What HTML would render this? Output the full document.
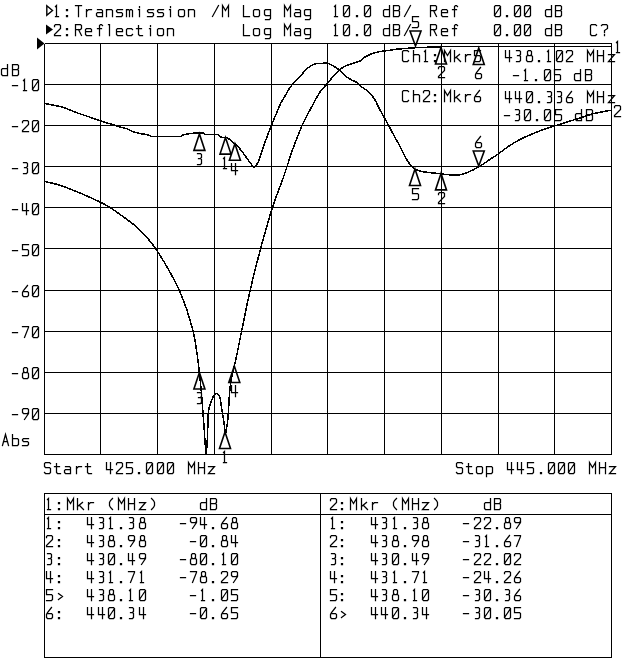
<!DOCTYPE html>
<html><head><meta charset="utf-8"><style>
html,body{margin:0;padding:0;background:#fff;}
svg{display:block;}
body{font-family:"Liberation Mono";}
.g{stroke:#000;stroke-width:1;shape-rendering:crispEdges;}
.b{fill:none;stroke:#000;stroke-width:1;shape-rendering:crispEdges;}
.t{fill:none;stroke:#000;stroke-width:1.25;stroke-linecap:square;stroke-linejoin:miter;}
.c{fill:none;stroke:#000;stroke-width:1.5;shape-rendering:crispEdges;}
.m{fill:none;stroke:#000;stroke-width:1.6;stroke-linejoin:miter;stroke-miterlimit:10;}
</style></head><body>
<svg width="640" height="659" viewBox="0 0 640 659">
<line x1="44.5" y1="43.5" x2="44.5" y2="454.5" class="g"/>
<line x1="100.5" y1="43.5" x2="100.5" y2="454.5" class="g"/>
<line x1="157.5" y1="43.5" x2="157.5" y2="454.5" class="g"/>
<line x1="214.5" y1="43.5" x2="214.5" y2="454.5" class="g"/>
<line x1="271.5" y1="43.5" x2="271.5" y2="454.5" class="g"/>
<line x1="327.5" y1="43.5" x2="327.5" y2="454.5" class="g"/>
<line x1="384.5" y1="43.5" x2="384.5" y2="454.5" class="g"/>
<line x1="441.5" y1="43.5" x2="441.5" y2="454.5" class="g"/>
<line x1="498.5" y1="43.5" x2="498.5" y2="454.5" class="g"/>
<line x1="554.5" y1="43.5" x2="554.5" y2="454.5" class="g"/>
<line x1="611.5" y1="43.5" x2="611.5" y2="454.5" class="g"/>
<line x1="44.5" y1="43.5" x2="611.5" y2="43.5" class="g"/>
<line x1="44.5" y1="84.5" x2="611.5" y2="84.5" class="g"/>
<line x1="44.5" y1="125.5" x2="611.5" y2="125.5" class="g"/>
<line x1="44.5" y1="166.5" x2="611.5" y2="166.5" class="g"/>
<line x1="44.5" y1="207.5" x2="611.5" y2="207.5" class="g"/>
<line x1="44.5" y1="248.5" x2="611.5" y2="248.5" class="g"/>
<line x1="44.5" y1="290.5" x2="611.5" y2="290.5" class="g"/>
<line x1="44.5" y1="331.5" x2="611.5" y2="331.5" class="g"/>
<line x1="44.5" y1="372.5" x2="611.5" y2="372.5" class="g"/>
<line x1="44.5" y1="413.5" x2="611.5" y2="413.5" class="g"/>
<line x1="44.5" y1="454.5" x2="611.5" y2="454.5" class="g"/>
<rect x="44.5" y="493.5" width="567" height="164" class="b"/>
<line x1="44.5" y1="514.5" x2="611.5" y2="514.5" class="g"/>
<line x1="320.5" y1="493.5" x2="320.5" y2="657.5" class="g"/>
<polygon points="46.8,5.8 52.5,10.5 46.8,15.2" fill="none" stroke="#000" stroke-width="1.4"/>
<polygon points="46,24.6 53,29.5 46,34.4" fill="#000"/>
<polygon points="37,37.5 44.5,43.5 37,49.5" fill="#000"/>
<path class="c" d="M44.50,181.50 C46.67,182.00 53.67,183.42 57.50,184.50 C61.33,185.58 63.75,186.58 67.50,188.00 C71.25,189.42 74.58,190.67 80.00,193.00 C85.42,195.33 95.00,199.58 100.00,202.00 C105.00,204.42 106.25,205.12 110.00,207.50 C113.75,209.88 117.92,212.83 122.50,216.25 C127.08,219.67 131.93,222.53 137.50,228.00 C143.07,233.47 148.93,238.68 155.90,249.10 C162.87,259.52 173.10,276.77 179.30,290.50 C185.50,304.23 189.75,317.83 193.10,331.50 C196.45,345.17 197.75,358.92 199.40,372.50 C201.05,386.08 201.92,399.33 203.00,413.00 C204.08,426.67 205.42,447.58 205.90,454.50 L206.30,454.50 C206.50,451.42 207.13,443.25 207.50,436.00 C207.87,428.75 207.83,416.83 208.50,411.00 C209.17,405.17 210.67,403.50 211.50,401.00 C212.33,398.50 212.75,397.22 213.50,396.00 C214.25,394.78 215.17,393.87 216.00,393.70 C216.83,393.53 217.83,394.28 218.50,395.00 C219.17,395.72 219.38,395.23 220.00,398.00 C220.62,400.77 221.60,407.93 222.20,411.60 C222.80,415.27 223.05,416.18 223.60,420.00 C224.15,423.82 225.18,432.08 225.50,434.50 C225.88,432.08 227.08,427.37 227.80,420.00 C228.52,412.63 229.10,397.77 229.80,390.30 C230.50,382.83 231.25,379.25 232.00,375.20 C232.75,371.15 233.53,369.20 234.30,366.00 C235.07,362.80 235.30,362.22 236.60,356.00 C237.90,349.78 239.92,339.32 242.10,328.70 C244.28,318.08 246.67,305.45 249.70,292.30 C252.73,279.15 256.50,263.97 260.30,249.80 C264.10,235.63 268.80,218.93 272.50,207.30 C276.20,195.67 280.08,186.80 282.50,180.00 C284.92,173.20 285.23,171.78 287.00,166.50 C288.77,161.22 290.57,155.18 293.10,148.30 C295.63,141.42 299.42,131.53 302.20,125.20 C304.98,118.87 306.83,115.82 309.80,110.30 C312.77,104.78 316.95,96.69 320.00,92.10 C323.05,87.51 325.81,85.50 328.10,82.75 C330.39,80.00 331.87,77.72 333.75,75.60 C335.63,73.47 337.52,71.56 339.40,70.00 C341.27,68.44 342.82,67.35 345.00,66.25 C347.18,65.15 350.00,64.28 352.50,63.40 C355.00,62.52 357.92,62.07 360.00,61.00 C362.08,59.93 362.92,58.25 365.00,57.00 C367.08,55.75 370.00,54.40 372.50,53.50 C375.00,52.60 378.08,52.02 380.00,51.60 C381.92,51.18 382.33,51.23 384.00,51.00 C385.67,50.77 388.00,50.50 390.00,50.20 C392.00,49.90 393.67,49.47 396.00,49.20 C398.33,48.93 401.00,48.83 404.00,48.60 C407.00,48.37 410.50,48.02 414.00,47.80 C417.50,47.58 420.67,47.43 425.00,47.30 C429.33,47.17 436.17,47.13 440.00,47.00 C443.83,46.87 419.50,46.58 448.00,46.50 C476.50,46.42 583.83,46.50 611.00,46.50"/>
<path class="c" d="M44.70,103.60 C45.73,103.78 47.78,104.05 50.90,104.70 C54.02,105.35 58.97,106.12 63.40,107.50 C67.83,108.88 73.58,111.57 77.50,113.00 C81.42,114.43 83.12,114.80 86.90,116.10 C90.68,117.40 96.30,119.50 100.20,120.80 C104.10,122.10 107.00,122.88 110.30,123.90 C113.60,124.92 117.13,126.05 120.00,126.90 C122.87,127.75 125.42,128.23 127.50,129.00 C129.58,129.77 130.42,130.75 132.50,131.50 C134.58,132.25 137.29,132.92 140.00,133.50 C142.71,134.08 146.98,134.53 148.75,135.00 C150.52,135.47 150.29,136.08 150.60,136.30 L181.25,136.30 C181.54,136.08 180.92,135.52 183.00,135.00 C185.08,134.48 190.33,133.50 193.75,133.20 C197.17,132.90 201.88,133.20 203.50,133.20 L204.40,134.40 L217.60,134.40 C218.07,134.80 219.33,136.25 220.40,136.80 C221.47,137.35 222.73,137.47 224.00,137.70 C225.27,137.93 226.42,137.27 228.00,138.20 C229.58,139.13 232.12,142.21 233.50,143.30 C234.88,144.39 234.73,143.18 236.30,144.75 C237.87,146.32 240.77,149.96 242.90,152.70 C245.03,155.44 247.25,158.70 249.10,161.20 C250.95,163.70 253.18,166.62 254.00,167.70 C254.70,166.75 256.73,165.23 258.20,162.00 C259.67,158.77 261.28,152.62 262.80,148.30 C264.32,143.98 265.83,139.95 267.30,136.10 C268.77,132.25 270.08,128.98 271.60,125.20 C273.12,121.42 274.83,117.13 276.40,113.40 C277.97,109.67 279.48,105.83 281.00,102.80 C282.52,99.77 284.00,97.73 285.50,95.20 C287.00,92.67 288.23,90.13 290.00,87.60 C291.77,85.07 294.43,81.83 296.10,80.00 C297.77,78.17 298.10,78.58 300.00,76.60 C301.90,74.62 305.00,70.20 307.50,68.10 C310.00,66.00 312.82,64.78 315.00,64.00 C317.18,63.22 318.42,63.50 320.60,63.40 C322.78,63.30 325.91,62.92 328.10,63.40 C330.29,63.88 331.87,65.15 333.75,66.25 C335.63,67.35 337.52,68.44 339.40,70.00 C341.27,71.56 343.13,74.03 345.00,75.60 C346.87,77.17 348.73,78.30 350.60,79.40 C352.48,80.50 354.37,80.93 356.25,82.20 C358.13,83.47 359.71,85.28 361.90,87.00 C364.09,88.72 367.22,90.33 369.40,92.50 C371.58,94.67 373.23,97.08 375.00,100.00 C376.77,102.92 378.33,106.88 380.00,110.00 C381.67,113.12 382.50,114.17 385.00,118.75 C387.50,123.33 392.50,132.92 395.00,137.50 C397.50,142.08 398.54,143.54 400.00,146.25 C401.46,148.96 402.35,151.09 403.75,153.75 C405.15,156.41 406.52,159.64 408.40,162.20 C410.27,164.76 412.65,167.53 415.00,169.10 C417.35,170.67 419.38,170.95 422.50,171.60 C425.62,172.25 430.62,172.63 433.75,173.00 C436.88,173.37 438.75,173.51 441.25,173.80 C443.75,174.09 445.62,174.59 448.75,174.75 C451.88,174.91 456.88,175.12 460.00,174.75 C463.12,174.38 464.38,173.81 467.50,172.50 C470.62,171.19 475.00,169.08 478.75,166.90 C482.50,164.72 486.71,161.59 490.00,159.40 C493.29,157.21 495.38,155.94 498.50,153.75 C501.62,151.56 505.17,148.62 508.75,146.25 C512.33,143.88 515.99,141.58 520.00,139.50 C524.01,137.42 528.84,135.43 532.80,133.75 C536.76,132.07 540.17,130.68 543.75,129.40 C547.33,128.12 550.66,127.27 554.30,126.10 C557.94,124.93 561.52,123.68 565.60,122.40 C569.68,121.12 574.37,119.78 578.75,118.40 C583.13,117.02 586.42,115.48 591.90,114.10 C597.38,112.72 608.32,110.77 611.60,110.10"/>
<polygon class="m" points="225,432 219.5,448.5 230.5,448.5"/>
<polygon class="m" points="441,47.5 435.5,64 446.5,64"/>
<polygon class="m" points="199.4,372.5 193.9,389 204.9,389"/>
<polygon class="m" points="234.3,366 228.8,382.5 239.8,382.5"/>
<polygon class="m" points="478.75,48 473.25,64.5 484.25,64.5"/>
<polygon class="m" points="225.5,137.6 220,154.1 231,154.1"/>
<polygon class="m" points="441,173.4 435.5,189.9 446.5,189.9"/>
<polygon class="m" points="199.4,133.9 193.9,150.4 204.9,150.4"/>
<polygon class="m" points="234.9,143.75 229.4,160.25 240.4,160.25"/>
<polygon class="m" points="415,169 409.5,185.5 420.5,185.5"/>
<polygon class="m" points="415.5,46 410,31 421,31"/>
<polygon class="m" points="478.75,166 473.25,151 484.25,151"/>
<path class="t" d="M 55.5,6.5 L 56.5,5.5 L 56.5,16.5 M 55.5,16.5 L 58.5,16.5 M 66.5,9.5 L 67.5,9.5 L 67.5,10.5 L 66.5,10.5 Z M 66.5,15.5 L 67.5,15.5 L 67.5,16.5 L 66.5,16.5 Z M 75.5,5.5 L 81.5,5.5 M 78.5,5.5 L 78.5,16.5 M 86.5,9.5 L 86.5,16.5 M 86.5,11.5 L 88.5,9.5 L 91.5,9.5 M 97.5,9.5 L 101.5,9.5 L 102.5,10.5 L 102.5,16.5 M 102.5,12.5 L 97.5,12.5 L 96.5,13.5 L 96.5,15.5 L 97.5,16.5 L 102.5,16.5 M 106.5,9.5 L 106.5,16.5 M 106.5,10.5 L 107.5,9.5 L 111.5,9.5 L 112.5,10.5 L 112.5,16.5 M 122.5,9.5 L 117.5,9.5 L 116.5,10.5 L 116.5,11.5 L 117.5,12.5 L 121.5,12.5 L 122.5,13.5 L 122.5,15.5 L 121.5,16.5 L 116.5,16.5 M 126.5,9.5 L 126.5,16.5 M 126.5,10.5 L 127.5,9.5 L 128.5,9.5 L 129.5,10.5 L 129.5,16.5 M 129.5,10.5 L 130.5,9.5 L 131.5,9.5 L 132.5,10.5 L 132.5,16.5 M 138.5,9.5 L 139.5,9.5 L 139.5,16.5 M 139.5,6.5 L 139.5,7.5 M 153.5,9.5 L 148.5,9.5 L 147.5,10.5 L 147.5,11.5 L 148.5,12.5 L 152.5,12.5 L 153.5,13.5 L 153.5,15.5 L 152.5,16.5 L 147.5,16.5 M 163.5,9.5 L 158.5,9.5 L 157.5,10.5 L 157.5,11.5 L 158.5,12.5 L 162.5,12.5 L 163.5,13.5 L 163.5,15.5 L 162.5,16.5 L 157.5,16.5 M 169.5,9.5 L 170.5,9.5 L 170.5,16.5 M 170.5,6.5 L 170.5,7.5 M 179.5,9.5 L 183.5,9.5 L 184.5,10.5 L 184.5,15.5 L 183.5,16.5 L 179.5,16.5 L 178.5,15.5 L 178.5,10.5 Z M 188.5,9.5 L 188.5,16.5 M 188.5,10.5 L 189.5,9.5 L 193.5,9.5 L 194.5,10.5 L 194.5,16.5 M 212.5,16.5 L 218.5,5.5 M 222.5,16.5 L 222.5,5.5 L 225.5,10.5 L 228.5,5.5 L 228.5,16.5 M 243.5,5.5 L 243.5,16.5 L 249.5,16.5 M 254.5,9.5 L 258.5,9.5 L 259.5,10.5 L 259.5,15.5 L 258.5,16.5 L 254.5,16.5 L 253.5,15.5 L 253.5,10.5 Z M 270.5,9.5 L 265.5,9.5 L 264.5,10.5 L 264.5,14.5 L 265.5,15.5 L 270.5,15.5 M 270.5,9.5 L 270.5,18.5 L 269.5,19.5 L 265.5,19.5 M 284.5,16.5 L 284.5,5.5 L 287.5,10.5 L 290.5,5.5 L 290.5,16.5 M 295.5,9.5 L 299.5,9.5 L 300.5,10.5 L 300.5,16.5 M 300.5,12.5 L 295.5,12.5 L 294.5,13.5 L 294.5,15.5 L 295.5,16.5 L 300.5,16.5 M 310.5,9.5 L 305.5,9.5 L 304.5,10.5 L 304.5,14.5 L 305.5,15.5 L 310.5,15.5 M 310.5,9.5 L 310.5,18.5 L 309.5,19.5 L 305.5,19.5 M 334.5,6.5 L 335.5,5.5 L 335.5,16.5 M 334.5,16.5 L 337.5,16.5 M 344.5,5.5 L 348.5,5.5 L 349.5,6.5 L 349.5,15.5 L 348.5,16.5 L 344.5,16.5 L 343.5,15.5 L 343.5,6.5 Z M 343.5,15.5 L 349.5,6.5 M 356.5,15.5 L 357.5,15.5 L 357.5,16.5 L 356.5,16.5 Z M 365.5,5.5 L 369.5,5.5 L 370.5,6.5 L 370.5,15.5 L 369.5,16.5 L 365.5,16.5 L 364.5,15.5 L 364.5,6.5 Z M 364.5,15.5 L 370.5,6.5 M 389.5,5.5 L 389.5,16.5 L 384.5,16.5 L 383.5,15.5 L 383.5,10.5 L 384.5,9.5 L 389.5,9.5 M 393.5,5.5 L 398.5,5.5 L 399.5,6.5 L 399.5,9.5 L 398.5,10.5 L 393.5,10.5 M 398.5,10.5 L 399.5,11.5 L 399.5,15.5 L 398.5,16.5 L 393.5,16.5 L 393.5,5.5 M 404.5,16.5 L 410.5,5.5 M 430.5,16.5 L 430.5,5.5 L 435.5,5.5 L 436.5,6.5 L 436.5,9.5 L 435.5,10.5 L 430.5,10.5 M 433.5,10.5 L 436.5,16.5 M 441.5,12.5 L 447.5,12.5 L 447.5,10.5 L 446.5,9.5 L 442.5,9.5 L 441.5,10.5 L 441.5,15.5 L 442.5,16.5 L 447.5,16.5 M 457.5,6.5 L 456.5,5.5 L 455.5,5.5 L 454.5,6.5 L 454.5,16.5 M 452.5,9.5 L 456.5,9.5 M 495.5,5.5 L 499.5,5.5 L 500.5,6.5 L 500.5,15.5 L 499.5,16.5 L 495.5,16.5 L 494.5,15.5 L 494.5,6.5 Z M 494.5,15.5 L 500.5,6.5 M 506.5,15.5 L 507.5,15.5 L 507.5,16.5 L 506.5,16.5 Z M 515.5,5.5 L 519.5,5.5 L 520.5,6.5 L 520.5,15.5 L 519.5,16.5 L 515.5,16.5 L 514.5,15.5 L 514.5,6.5 Z M 514.5,15.5 L 520.5,6.5 M 525.5,5.5 L 529.5,5.5 L 530.5,6.5 L 530.5,15.5 L 529.5,16.5 L 525.5,16.5 L 524.5,15.5 L 524.5,6.5 Z M 524.5,15.5 L 530.5,6.5 M 551.5,5.5 L 551.5,16.5 L 546.5,16.5 L 545.5,15.5 L 545.5,10.5 L 546.5,9.5 L 551.5,9.5 M 555.5,5.5 L 560.5,5.5 L 561.5,6.5 L 561.5,9.5 L 560.5,10.5 L 555.5,10.5 M 560.5,10.5 L 561.5,11.5 L 561.5,15.5 L 560.5,16.5 L 555.5,16.5 L 555.5,5.5 M 54.5,26.5 L 54.5,25.5 L 55.5,24.5 L 59.5,24.5 L 60.5,25.5 L 60.5,28.5 L 54.5,34.5 L 54.5,35.5 L 60.5,35.5 M 66.5,28.5 L 67.5,28.5 L 67.5,29.5 L 66.5,29.5 Z M 66.5,34.5 L 67.5,34.5 L 67.5,35.5 L 66.5,35.5 Z M 75.5,35.5 L 75.5,24.5 L 80.5,24.5 L 81.5,25.5 L 81.5,28.5 L 80.5,29.5 L 75.5,29.5 M 78.5,29.5 L 81.5,35.5 M 85.5,31.5 L 91.5,31.5 L 91.5,29.5 L 90.5,28.5 L 86.5,28.5 L 85.5,29.5 L 85.5,34.5 L 86.5,35.5 L 91.5,35.5 M 102.5,25.5 L 101.5,24.5 L 100.5,24.5 L 99.5,25.5 L 99.5,35.5 M 97.5,28.5 L 101.5,28.5 M 108.5,24.5 L 109.5,24.5 L 109.5,35.5 M 116.5,31.5 L 122.5,31.5 L 122.5,29.5 L 121.5,28.5 L 117.5,28.5 L 116.5,29.5 L 116.5,34.5 L 117.5,35.5 L 122.5,35.5 M 132.5,29.5 L 131.5,28.5 L 127.5,28.5 L 126.5,29.5 L 126.5,34.5 L 127.5,35.5 L 131.5,35.5 L 132.5,34.5 M 138.5,25.5 L 138.5,34.5 L 139.5,35.5 L 142.5,35.5 M 136.5,28.5 L 141.5,28.5 M 149.5,28.5 L 150.5,28.5 L 150.5,35.5 M 150.5,25.5 L 150.5,26.5 M 158.5,28.5 L 162.5,28.5 L 163.5,29.5 L 163.5,34.5 L 162.5,35.5 L 158.5,35.5 L 157.5,34.5 L 157.5,29.5 Z M 167.5,28.5 L 167.5,35.5 M 167.5,29.5 L 168.5,28.5 L 172.5,28.5 L 173.5,29.5 L 173.5,35.5 M 243.5,24.5 L 243.5,35.5 L 249.5,35.5 M 254.5,28.5 L 258.5,28.5 L 259.5,29.5 L 259.5,34.5 L 258.5,35.5 L 254.5,35.5 L 253.5,34.5 L 253.5,29.5 Z M 270.5,28.5 L 265.5,28.5 L 264.5,29.5 L 264.5,33.5 L 265.5,34.5 L 270.5,34.5 M 270.5,28.5 L 270.5,37.5 L 269.5,38.5 L 265.5,38.5 M 284.5,35.5 L 284.5,24.5 L 287.5,29.5 L 290.5,24.5 L 290.5,35.5 M 295.5,28.5 L 299.5,28.5 L 300.5,29.5 L 300.5,35.5 M 300.5,31.5 L 295.5,31.5 L 294.5,32.5 L 294.5,34.5 L 295.5,35.5 L 300.5,35.5 M 310.5,28.5 L 305.5,28.5 L 304.5,29.5 L 304.5,33.5 L 305.5,34.5 L 310.5,34.5 M 310.5,28.5 L 310.5,37.5 L 309.5,38.5 L 305.5,38.5 M 334.5,25.5 L 335.5,24.5 L 335.5,35.5 M 334.5,35.5 L 337.5,35.5 M 344.5,24.5 L 348.5,24.5 L 349.5,25.5 L 349.5,34.5 L 348.5,35.5 L 344.5,35.5 L 343.5,34.5 L 343.5,25.5 Z M 343.5,34.5 L 349.5,25.5 M 356.5,34.5 L 357.5,34.5 L 357.5,35.5 L 356.5,35.5 Z M 365.5,24.5 L 369.5,24.5 L 370.5,25.5 L 370.5,34.5 L 369.5,35.5 L 365.5,35.5 L 364.5,34.5 L 364.5,25.5 Z M 364.5,34.5 L 370.5,25.5 M 389.5,24.5 L 389.5,35.5 L 384.5,35.5 L 383.5,34.5 L 383.5,29.5 L 384.5,28.5 L 389.5,28.5 M 393.5,24.5 L 398.5,24.5 L 399.5,25.5 L 399.5,28.5 L 398.5,29.5 L 393.5,29.5 M 398.5,29.5 L 399.5,30.5 L 399.5,34.5 L 398.5,35.5 L 393.5,35.5 L 393.5,24.5 M 404.5,35.5 L 410.5,24.5 M 430.5,35.5 L 430.5,24.5 L 435.5,24.5 L 436.5,25.5 L 436.5,28.5 L 435.5,29.5 L 430.5,29.5 M 433.5,29.5 L 436.5,35.5 M 441.5,31.5 L 447.5,31.5 L 447.5,29.5 L 446.5,28.5 L 442.5,28.5 L 441.5,29.5 L 441.5,34.5 L 442.5,35.5 L 447.5,35.5 M 457.5,25.5 L 456.5,24.5 L 455.5,24.5 L 454.5,25.5 L 454.5,35.5 M 452.5,28.5 L 456.5,28.5 M 495.5,24.5 L 499.5,24.5 L 500.5,25.5 L 500.5,34.5 L 499.5,35.5 L 495.5,35.5 L 494.5,34.5 L 494.5,25.5 Z M 494.5,34.5 L 500.5,25.5 M 506.5,34.5 L 507.5,34.5 L 507.5,35.5 L 506.5,35.5 Z M 515.5,24.5 L 519.5,24.5 L 520.5,25.5 L 520.5,34.5 L 519.5,35.5 L 515.5,35.5 L 514.5,34.5 L 514.5,25.5 Z M 514.5,34.5 L 520.5,25.5 M 525.5,24.5 L 529.5,24.5 L 530.5,25.5 L 530.5,34.5 L 529.5,35.5 L 525.5,35.5 L 524.5,34.5 L 524.5,25.5 Z M 524.5,34.5 L 530.5,25.5 M 551.5,24.5 L 551.5,35.5 L 546.5,35.5 L 545.5,34.5 L 545.5,29.5 L 546.5,28.5 L 551.5,28.5 M 555.5,24.5 L 560.5,24.5 L 561.5,25.5 L 561.5,28.5 L 560.5,29.5 L 555.5,29.5 M 560.5,29.5 L 561.5,30.5 L 561.5,34.5 L 560.5,35.5 L 555.5,35.5 L 555.5,24.5 M 596.5,25.5 L 595.5,24.5 L 591.5,24.5 L 590.5,25.5 L 590.5,34.5 L 591.5,35.5 L 595.5,35.5 L 596.5,34.5 M 601.5,25.5 L 602.5,24.5 L 606.5,24.5 L 607.5,25.5 L 607.5,28.5 L 604.5,30.5 L 604.5,32.5 M 604.5,34.5 L 604.5,35.5 M 408.5,51.5 L 407.5,50.5 L 403.5,50.5 L 402.5,51.5 L 402.5,60.5 L 403.5,61.5 L 407.5,61.5 L 408.5,60.5 M 413.5,50.5 L 413.5,61.5 M 413.5,55.5 L 414.5,54.5 L 418.5,54.5 L 419.5,55.5 L 419.5,61.5 M 424.5,51.5 L 425.5,50.5 L 425.5,61.5 M 424.5,61.5 L 427.5,61.5 M 434.5,54.5 L 435.5,54.5 L 435.5,55.5 L 434.5,55.5 Z M 434.5,60.5 L 435.5,60.5 L 435.5,61.5 L 434.5,61.5 Z M 444.5,61.5 L 444.5,50.5 L 447.5,55.5 L 450.5,50.5 L 450.5,61.5 M 454.5,50.5 L 454.5,61.5 M 459.5,54.5 L 454.5,58.5 M 456.5,57.5 L 460.5,61.5 M 465.5,54.5 L 465.5,61.5 M 465.5,56.5 L 467.5,54.5 L 470.5,54.5 M 480.5,50.5 L 474.5,50.5 L 474.5,55.5 L 479.5,55.5 L 480.5,56.5 L 480.5,60.5 L 479.5,61.5 L 474.5,61.5 M 505.5,50.5 L 505.5,57.5 L 511.5,57.5 M 509.5,50.5 L 509.5,61.5 M 516.5,50.5 L 519.5,50.5 L 520.5,51.5 L 520.5,54.5 L 519.5,55.5 L 517.5,55.5 M 519.5,55.5 L 520.5,56.5 L 520.5,60.5 L 519.5,61.5 L 516.5,61.5 M 528.5,50.5 L 530.5,50.5 L 531.5,51.5 L 531.5,54.5 L 530.5,55.5 L 528.5,55.5 L 527.5,54.5 L 527.5,51.5 Z M 527.5,55.5 L 526.5,56.5 L 526.5,60.5 L 527.5,61.5 L 531.5,61.5 L 532.5,60.5 L 532.5,56.5 L 531.5,55.5 M 538.5,60.5 L 539.5,60.5 L 539.5,61.5 L 538.5,61.5 Z M 547.5,51.5 L 548.5,50.5 L 548.5,61.5 M 547.5,61.5 L 550.5,61.5 M 557.5,50.5 L 561.5,50.5 L 562.5,51.5 L 562.5,60.5 L 561.5,61.5 L 557.5,61.5 L 556.5,60.5 L 556.5,51.5 Z M 556.5,60.5 L 562.5,51.5 M 566.5,52.5 L 566.5,51.5 L 567.5,50.5 L 571.5,50.5 L 572.5,51.5 L 572.5,54.5 L 566.5,60.5 L 566.5,61.5 L 572.5,61.5 M 587.5,61.5 L 587.5,50.5 L 590.5,55.5 L 593.5,50.5 L 593.5,61.5 M 597.5,50.5 L 597.5,61.5 M 603.5,50.5 L 603.5,61.5 M 597.5,55.5 L 603.5,55.5 M 608.5,54.5 L 614.5,54.5 L 608.5,61.5 L 614.5,61.5 M 513.5,75.5 L 518.5,75.5 M 524.5,70.5 L 525.5,69.5 L 525.5,80.5 M 524.5,80.5 L 527.5,80.5 M 535.5,79.5 L 536.5,79.5 L 536.5,80.5 L 535.5,80.5 Z M 545.5,69.5 L 549.5,69.5 L 550.5,70.5 L 550.5,79.5 L 549.5,80.5 L 545.5,80.5 L 544.5,79.5 L 544.5,70.5 Z M 544.5,79.5 L 550.5,70.5 M 560.5,69.5 L 554.5,69.5 L 554.5,74.5 L 559.5,74.5 L 560.5,75.5 L 560.5,79.5 L 559.5,80.5 L 554.5,80.5 M 580.5,69.5 L 580.5,80.5 L 575.5,80.5 L 574.5,79.5 L 574.5,74.5 L 575.5,73.5 L 580.5,73.5 M 585.5,69.5 L 590.5,69.5 L 591.5,70.5 L 591.5,73.5 L 590.5,74.5 L 585.5,74.5 M 590.5,74.5 L 591.5,75.5 L 591.5,79.5 L 590.5,80.5 L 585.5,80.5 L 585.5,69.5 M 408.5,91.5 L 407.5,90.5 L 403.5,90.5 L 402.5,91.5 L 402.5,100.5 L 403.5,101.5 L 407.5,101.5 L 408.5,100.5 M 413.5,90.5 L 413.5,101.5 M 413.5,95.5 L 414.5,94.5 L 418.5,94.5 L 419.5,95.5 L 419.5,101.5 M 423.5,92.5 L 423.5,91.5 L 424.5,90.5 L 428.5,90.5 L 429.5,91.5 L 429.5,94.5 L 423.5,100.5 L 423.5,101.5 L 429.5,101.5 M 434.5,94.5 L 435.5,94.5 L 435.5,95.5 L 434.5,95.5 Z M 434.5,100.5 L 435.5,100.5 L 435.5,101.5 L 434.5,101.5 Z M 444.5,101.5 L 444.5,90.5 L 447.5,95.5 L 450.5,90.5 L 450.5,101.5 M 454.5,90.5 L 454.5,101.5 M 459.5,94.5 L 454.5,98.5 M 456.5,97.5 L 460.5,101.5 M 465.5,94.5 L 465.5,101.5 M 465.5,96.5 L 467.5,94.5 L 470.5,94.5 M 479.5,90.5 L 475.5,95.5 L 474.5,97.5 L 474.5,100.5 L 475.5,101.5 L 479.5,101.5 L 480.5,100.5 L 480.5,97.5 L 479.5,96.5 L 475.5,96.5 M 505.5,91.5 L 505.5,98.5 L 511.5,98.5 M 509.5,91.5 L 509.5,102.5 M 515.5,91.5 L 515.5,98.5 L 521.5,98.5 M 519.5,91.5 L 519.5,102.5 M 527.5,91.5 L 531.5,91.5 L 532.5,92.5 L 532.5,101.5 L 531.5,102.5 L 527.5,102.5 L 526.5,101.5 L 526.5,92.5 Z M 526.5,101.5 L 532.5,92.5 M 538.5,101.5 L 539.5,101.5 L 539.5,102.5 L 538.5,102.5 Z M 547.5,91.5 L 550.5,91.5 L 551.5,92.5 L 551.5,95.5 L 550.5,96.5 L 548.5,96.5 M 550.5,96.5 L 551.5,97.5 L 551.5,101.5 L 550.5,102.5 L 547.5,102.5 M 557.5,91.5 L 560.5,91.5 L 561.5,92.5 L 561.5,95.5 L 560.5,96.5 L 558.5,96.5 M 560.5,96.5 L 561.5,97.5 L 561.5,101.5 L 560.5,102.5 L 557.5,102.5 M 571.5,91.5 L 567.5,96.5 L 566.5,98.5 L 566.5,101.5 L 567.5,102.5 L 571.5,102.5 L 572.5,101.5 L 572.5,98.5 L 571.5,97.5 L 567.5,97.5 M 587.5,102.5 L 587.5,91.5 L 590.5,96.5 L 593.5,91.5 L 593.5,102.5 M 597.5,91.5 L 597.5,102.5 M 603.5,91.5 L 603.5,102.5 M 597.5,96.5 L 603.5,96.5 M 608.5,95.5 L 614.5,95.5 L 608.5,102.5 L 614.5,102.5 M 504.5,115.5 L 509.5,115.5 M 515.5,109.5 L 518.5,109.5 L 519.5,110.5 L 519.5,113.5 L 518.5,114.5 L 516.5,114.5 M 518.5,114.5 L 519.5,115.5 L 519.5,119.5 L 518.5,120.5 L 515.5,120.5 M 525.5,109.5 L 529.5,109.5 L 530.5,110.5 L 530.5,119.5 L 529.5,120.5 L 525.5,120.5 L 524.5,119.5 L 524.5,110.5 Z M 524.5,119.5 L 530.5,110.5 M 536.5,119.5 L 537.5,119.5 L 537.5,120.5 L 536.5,120.5 Z M 545.5,109.5 L 549.5,109.5 L 550.5,110.5 L 550.5,119.5 L 549.5,120.5 L 545.5,120.5 L 544.5,119.5 L 544.5,110.5 Z M 544.5,119.5 L 550.5,110.5 M 561.5,109.5 L 555.5,109.5 L 555.5,114.5 L 560.5,114.5 L 561.5,115.5 L 561.5,119.5 L 560.5,120.5 L 555.5,120.5 M 581.5,109.5 L 581.5,120.5 L 576.5,120.5 L 575.5,119.5 L 575.5,114.5 L 576.5,113.5 L 581.5,113.5 M 586.5,109.5 L 591.5,109.5 L 592.5,110.5 L 592.5,113.5 L 591.5,114.5 L 586.5,114.5 M 591.5,114.5 L 592.5,115.5 L 592.5,119.5 L 591.5,120.5 L 586.5,120.5 L 586.5,109.5 M 7.5,64.5 L 7.5,75.5 L 2.5,75.5 L 1.5,74.5 L 1.5,69.5 L 2.5,68.5 L 7.5,68.5 M 12.5,64.5 L 17.5,64.5 L 18.5,65.5 L 18.5,68.5 L 17.5,69.5 L 12.5,69.5 M 17.5,69.5 L 18.5,70.5 L 18.5,74.5 L 17.5,75.5 L 12.5,75.5 L 12.5,64.5 M 12.5,85.5 L 17.5,85.5 M 23.5,80.5 L 24.5,79.5 L 24.5,90.5 M 23.5,90.5 L 26.5,90.5 M 33.5,79.5 L 37.5,79.5 L 38.5,80.5 L 38.5,89.5 L 37.5,90.5 L 33.5,90.5 L 32.5,89.5 L 32.5,80.5 Z M 32.5,89.5 L 38.5,80.5 M 12.5,126.5 L 17.5,126.5 M 22.5,122.5 L 22.5,121.5 L 23.5,120.5 L 27.5,120.5 L 28.5,121.5 L 28.5,124.5 L 22.5,130.5 L 22.5,131.5 L 28.5,131.5 M 33.5,120.5 L 37.5,120.5 L 38.5,121.5 L 38.5,130.5 L 37.5,131.5 L 33.5,131.5 L 32.5,130.5 L 32.5,121.5 Z M 32.5,130.5 L 38.5,121.5 M 12.5,168.5 L 17.5,168.5 M 23.5,162.5 L 26.5,162.5 L 27.5,163.5 L 27.5,166.5 L 26.5,167.5 L 24.5,167.5 M 26.5,167.5 L 27.5,168.5 L 27.5,172.5 L 26.5,173.5 L 23.5,173.5 M 33.5,162.5 L 37.5,162.5 L 38.5,163.5 L 38.5,172.5 L 37.5,173.5 L 33.5,173.5 L 32.5,172.5 L 32.5,163.5 Z M 32.5,172.5 L 38.5,163.5 M 12.5,209.5 L 17.5,209.5 M 22.5,203.5 L 22.5,210.5 L 28.5,210.5 M 26.5,203.5 L 26.5,214.5 M 33.5,203.5 L 37.5,203.5 L 38.5,204.5 L 38.5,213.5 L 37.5,214.5 L 33.5,214.5 L 32.5,213.5 L 32.5,204.5 Z M 32.5,213.5 L 38.5,204.5 M 12.5,250.5 L 17.5,250.5 M 28.5,244.5 L 22.5,244.5 L 22.5,249.5 L 27.5,249.5 L 28.5,250.5 L 28.5,254.5 L 27.5,255.5 L 22.5,255.5 M 33.5,244.5 L 37.5,244.5 L 38.5,245.5 L 38.5,254.5 L 37.5,255.5 L 33.5,255.5 L 32.5,254.5 L 32.5,245.5 Z M 32.5,254.5 L 38.5,245.5 M 12.5,291.5 L 17.5,291.5 M 27.5,285.5 L 23.5,290.5 L 22.5,292.5 L 22.5,295.5 L 23.5,296.5 L 27.5,296.5 L 28.5,295.5 L 28.5,292.5 L 27.5,291.5 L 23.5,291.5 M 33.5,285.5 L 37.5,285.5 L 38.5,286.5 L 38.5,295.5 L 37.5,296.5 L 33.5,296.5 L 32.5,295.5 L 32.5,286.5 Z M 32.5,295.5 L 38.5,286.5 M 12.5,332.5 L 17.5,332.5 M 22.5,326.5 L 28.5,326.5 L 28.5,327.5 L 24.5,337.5 M 33.5,326.5 L 37.5,326.5 L 38.5,327.5 L 38.5,336.5 L 37.5,337.5 L 33.5,337.5 L 32.5,336.5 L 32.5,327.5 Z M 32.5,336.5 L 38.5,327.5 M 12.5,373.5 L 17.5,373.5 M 24.5,367.5 L 26.5,367.5 L 27.5,368.5 L 27.5,371.5 L 26.5,372.5 L 24.5,372.5 L 23.5,371.5 L 23.5,368.5 Z M 23.5,372.5 L 22.5,373.5 L 22.5,377.5 L 23.5,378.5 L 27.5,378.5 L 28.5,377.5 L 28.5,373.5 L 27.5,372.5 M 33.5,367.5 L 37.5,367.5 L 38.5,368.5 L 38.5,377.5 L 37.5,378.5 L 33.5,378.5 L 32.5,377.5 L 32.5,368.5 Z M 32.5,377.5 L 38.5,368.5 M 12.5,414.5 L 17.5,414.5 M 28.5,412.5 L 27.5,413.5 L 23.5,413.5 L 22.5,412.5 L 22.5,409.5 L 23.5,408.5 L 27.5,408.5 L 28.5,409.5 L 28.5,413.5 L 24.5,419.5 M 33.5,408.5 L 37.5,408.5 L 38.5,409.5 L 38.5,418.5 L 37.5,419.5 L 33.5,419.5 L 32.5,418.5 L 32.5,409.5 Z M 32.5,418.5 L 38.5,409.5 M 2.5,445.5 L 5.5,434.5 L 8.5,445.5 M 3.5,441.5 L 7.5,441.5 M 12.5,434.5 L 12.5,445.5 L 17.5,445.5 L 18.5,444.5 L 18.5,439.5 L 17.5,438.5 L 12.5,438.5 M 28.5,438.5 L 23.5,438.5 L 22.5,439.5 L 22.5,440.5 L 23.5,441.5 L 27.5,441.5 L 28.5,442.5 L 28.5,444.5 L 27.5,445.5 L 22.5,445.5 M 50.5,463.5 L 49.5,462.5 L 45.5,462.5 L 44.5,463.5 L 44.5,466.5 L 45.5,467.5 L 49.5,467.5 L 50.5,468.5 L 50.5,472.5 L 49.5,473.5 L 45.5,473.5 L 44.5,472.5 M 56.5,463.5 L 56.5,472.5 L 57.5,473.5 L 60.5,473.5 M 54.5,466.5 L 59.5,466.5 M 65.5,466.5 L 69.5,466.5 L 70.5,467.5 L 70.5,473.5 M 70.5,469.5 L 65.5,469.5 L 64.5,470.5 L 64.5,472.5 L 65.5,473.5 L 70.5,473.5 M 76.5,466.5 L 76.5,473.5 M 76.5,468.5 L 78.5,466.5 L 81.5,466.5 M 87.5,463.5 L 87.5,472.5 L 88.5,473.5 L 91.5,473.5 M 85.5,466.5 L 90.5,466.5 M 106.5,462.5 L 106.5,469.5 L 112.5,469.5 M 110.5,462.5 L 110.5,473.5 M 116.5,464.5 L 116.5,463.5 L 117.5,462.5 L 121.5,462.5 L 122.5,463.5 L 122.5,466.5 L 116.5,472.5 L 116.5,473.5 L 122.5,473.5 M 132.5,462.5 L 126.5,462.5 L 126.5,467.5 L 131.5,467.5 L 132.5,468.5 L 132.5,472.5 L 131.5,473.5 L 126.5,473.5 M 138.5,472.5 L 139.5,472.5 L 139.5,473.5 L 138.5,473.5 Z M 147.5,462.5 L 151.5,462.5 L 152.5,463.5 L 152.5,472.5 L 151.5,473.5 L 147.5,473.5 L 146.5,472.5 L 146.5,463.5 Z M 146.5,472.5 L 152.5,463.5 M 158.5,462.5 L 162.5,462.5 L 163.5,463.5 L 163.5,472.5 L 162.5,473.5 L 158.5,473.5 L 157.5,472.5 L 157.5,463.5 Z M 157.5,472.5 L 163.5,463.5 M 168.5,462.5 L 172.5,462.5 L 173.5,463.5 L 173.5,472.5 L 172.5,473.5 L 168.5,473.5 L 167.5,472.5 L 167.5,463.5 Z M 167.5,472.5 L 173.5,463.5 M 188.5,473.5 L 188.5,462.5 L 191.5,467.5 L 194.5,462.5 L 194.5,473.5 M 198.5,462.5 L 198.5,473.5 M 204.5,462.5 L 204.5,473.5 M 198.5,467.5 L 204.5,467.5 M 208.5,466.5 L 214.5,466.5 L 208.5,473.5 L 214.5,473.5 M 462.5,463.5 L 461.5,462.5 L 457.5,462.5 L 456.5,463.5 L 456.5,466.5 L 457.5,467.5 L 461.5,467.5 L 462.5,468.5 L 462.5,472.5 L 461.5,473.5 L 457.5,473.5 L 456.5,472.5 M 468.5,463.5 L 468.5,472.5 L 469.5,473.5 L 472.5,473.5 M 466.5,466.5 L 471.5,466.5 M 477.5,466.5 L 481.5,466.5 L 482.5,467.5 L 482.5,472.5 L 481.5,473.5 L 477.5,473.5 L 476.5,472.5 L 476.5,467.5 Z M 486.5,466.5 L 486.5,476.5 M 486.5,466.5 L 491.5,466.5 L 492.5,467.5 L 492.5,472.5 L 491.5,473.5 L 486.5,473.5 M 507.5,462.5 L 507.5,469.5 L 513.5,469.5 M 511.5,462.5 L 511.5,473.5 M 517.5,462.5 L 517.5,469.5 L 523.5,469.5 M 521.5,462.5 L 521.5,473.5 M 533.5,462.5 L 527.5,462.5 L 527.5,467.5 L 532.5,467.5 L 533.5,468.5 L 533.5,472.5 L 532.5,473.5 L 527.5,473.5 M 540.5,472.5 L 541.5,472.5 L 541.5,473.5 L 540.5,473.5 Z M 549.5,462.5 L 553.5,462.5 L 554.5,463.5 L 554.5,472.5 L 553.5,473.5 L 549.5,473.5 L 548.5,472.5 L 548.5,463.5 Z M 548.5,472.5 L 554.5,463.5 M 559.5,462.5 L 563.5,462.5 L 564.5,463.5 L 564.5,472.5 L 563.5,473.5 L 559.5,473.5 L 558.5,472.5 L 558.5,463.5 Z M 558.5,472.5 L 564.5,463.5 M 569.5,462.5 L 573.5,462.5 L 574.5,463.5 L 574.5,472.5 L 573.5,473.5 L 569.5,473.5 L 568.5,472.5 L 568.5,463.5 Z M 568.5,472.5 L 574.5,463.5 M 589.5,473.5 L 589.5,462.5 L 592.5,467.5 L 595.5,462.5 L 595.5,473.5 M 599.5,462.5 L 599.5,473.5 M 605.5,462.5 L 605.5,473.5 M 599.5,467.5 L 605.5,467.5 M 609.5,466.5 L 615.5,466.5 L 609.5,473.5 L 615.5,473.5 M 616.5,42.5 L 617.5,41.5 L 617.5,52.5 M 616.5,52.5 L 619.5,52.5 M 614.5,107.5 L 614.5,106.5 L 615.5,105.5 L 619.5,105.5 L 620.5,106.5 L 620.5,109.5 L 614.5,115.5 L 614.5,116.5 L 620.5,116.5 M 47.5,499.5 L 48.5,498.5 L 48.5,509.5 M 47.5,509.5 L 50.5,509.5 M 58.5,502.5 L 59.5,502.5 L 59.5,503.5 L 58.5,503.5 Z M 58.5,508.5 L 59.5,508.5 L 59.5,509.5 L 58.5,509.5 Z M 67.5,509.5 L 67.5,498.5 L 70.5,503.5 L 73.5,498.5 L 73.5,509.5 M 77.5,498.5 L 77.5,509.5 M 82.5,502.5 L 77.5,506.5 M 79.5,505.5 L 83.5,509.5 M 88.5,502.5 L 88.5,509.5 M 88.5,504.5 L 90.5,502.5 L 93.5,502.5 M 112.5,498.5 L 110.5,500.5 L 109.5,502.5 L 109.5,505.5 L 110.5,507.5 L 112.5,509.5 M 118.5,509.5 L 118.5,498.5 L 121.5,503.5 L 124.5,498.5 L 124.5,509.5 M 128.5,498.5 L 128.5,509.5 M 134.5,498.5 L 134.5,509.5 M 128.5,503.5 L 134.5,503.5 M 139.5,502.5 L 145.5,502.5 L 139.5,509.5 L 145.5,509.5 M 151.5,498.5 L 153.5,500.5 L 154.5,502.5 L 154.5,505.5 L 153.5,507.5 L 151.5,509.5 M 206.5,498.5 L 206.5,509.5 L 201.5,509.5 L 200.5,508.5 L 200.5,503.5 L 201.5,502.5 L 206.5,502.5 M 210.5,498.5 L 215.5,498.5 L 216.5,499.5 L 216.5,502.5 L 215.5,503.5 L 210.5,503.5 M 215.5,503.5 L 216.5,504.5 L 216.5,508.5 L 215.5,509.5 L 210.5,509.5 L 210.5,498.5 M 330.5,500.5 L 330.5,499.5 L 331.5,498.5 L 335.5,498.5 L 336.5,499.5 L 336.5,502.5 L 330.5,508.5 L 330.5,509.5 L 336.5,509.5 M 341.5,502.5 L 342.5,502.5 L 342.5,503.5 L 341.5,503.5 Z M 341.5,508.5 L 342.5,508.5 L 342.5,509.5 L 341.5,509.5 Z M 350.5,509.5 L 350.5,498.5 L 353.5,503.5 L 356.5,498.5 L 356.5,509.5 M 361.5,498.5 L 361.5,509.5 M 366.5,502.5 L 361.5,506.5 M 363.5,505.5 L 367.5,509.5 M 372.5,502.5 L 372.5,509.5 M 372.5,504.5 L 374.5,502.5 L 377.5,502.5 M 396.5,498.5 L 394.5,500.5 L 393.5,502.5 L 393.5,505.5 L 394.5,507.5 L 396.5,509.5 M 402.5,509.5 L 402.5,498.5 L 405.5,503.5 L 408.5,498.5 L 408.5,509.5 M 412.5,498.5 L 412.5,509.5 M 418.5,498.5 L 418.5,509.5 M 412.5,503.5 L 418.5,503.5 M 422.5,502.5 L 428.5,502.5 L 422.5,509.5 L 428.5,509.5 M 434.5,498.5 L 436.5,500.5 L 437.5,502.5 L 437.5,505.5 L 436.5,507.5 L 434.5,509.5 M 490.5,498.5 L 490.5,509.5 L 485.5,509.5 L 484.5,508.5 L 484.5,503.5 L 485.5,502.5 L 490.5,502.5 M 494.5,498.5 L 499.5,498.5 L 500.5,499.5 L 500.5,502.5 L 499.5,503.5 L 494.5,503.5 M 499.5,503.5 L 500.5,504.5 L 500.5,508.5 L 499.5,509.5 L 494.5,509.5 L 494.5,498.5 M 47.5,518.5 L 48.5,517.5 L 48.5,528.5 M 47.5,528.5 L 50.5,528.5 M 58.5,521.5 L 59.5,521.5 L 59.5,522.5 L 58.5,522.5 Z M 58.5,527.5 L 59.5,527.5 L 59.5,528.5 L 58.5,528.5 Z M 87.5,517.5 L 87.5,524.5 L 93.5,524.5 M 91.5,517.5 L 91.5,528.5 M 99.5,517.5 L 102.5,517.5 L 103.5,518.5 L 103.5,521.5 L 102.5,522.5 L 100.5,522.5 M 102.5,522.5 L 103.5,523.5 L 103.5,527.5 L 102.5,528.5 L 99.5,528.5 M 109.5,518.5 L 110.5,517.5 L 110.5,528.5 M 109.5,528.5 L 112.5,528.5 M 120.5,527.5 L 121.5,527.5 L 121.5,528.5 L 120.5,528.5 Z M 129.5,517.5 L 132.5,517.5 L 133.5,518.5 L 133.5,521.5 L 132.5,522.5 L 130.5,522.5 M 132.5,522.5 L 133.5,523.5 L 133.5,527.5 L 132.5,528.5 L 129.5,528.5 M 141.5,517.5 L 143.5,517.5 L 144.5,518.5 L 144.5,521.5 L 143.5,522.5 L 141.5,522.5 L 140.5,521.5 L 140.5,518.5 Z M 140.5,522.5 L 139.5,523.5 L 139.5,527.5 L 140.5,528.5 L 144.5,528.5 L 145.5,527.5 L 145.5,523.5 L 144.5,522.5 M 180.5,523.5 L 185.5,523.5 M 196.5,521.5 L 195.5,522.5 L 191.5,522.5 L 190.5,521.5 L 190.5,518.5 L 191.5,517.5 L 195.5,517.5 L 196.5,518.5 L 196.5,522.5 L 192.5,528.5 M 200.5,517.5 L 200.5,524.5 L 206.5,524.5 M 204.5,517.5 L 204.5,528.5 M 212.5,527.5 L 213.5,527.5 L 213.5,528.5 L 212.5,528.5 Z M 226.5,517.5 L 222.5,522.5 L 221.5,524.5 L 221.5,527.5 L 222.5,528.5 L 226.5,528.5 L 227.5,527.5 L 227.5,524.5 L 226.5,523.5 L 222.5,523.5 M 233.5,517.5 L 235.5,517.5 L 236.5,518.5 L 236.5,521.5 L 235.5,522.5 L 233.5,522.5 L 232.5,521.5 L 232.5,518.5 Z M 232.5,522.5 L 231.5,523.5 L 231.5,527.5 L 232.5,528.5 L 236.5,528.5 L 237.5,527.5 L 237.5,523.5 L 236.5,522.5 M 331.5,518.5 L 332.5,517.5 L 332.5,528.5 M 331.5,528.5 L 334.5,528.5 M 341.5,521.5 L 342.5,521.5 L 342.5,522.5 L 341.5,522.5 Z M 341.5,527.5 L 342.5,527.5 L 342.5,528.5 L 341.5,528.5 Z M 371.5,517.5 L 371.5,524.5 L 377.5,524.5 M 375.5,517.5 L 375.5,528.5 M 382.5,517.5 L 385.5,517.5 L 386.5,518.5 L 386.5,521.5 L 385.5,522.5 L 383.5,522.5 M 385.5,522.5 L 386.5,523.5 L 386.5,527.5 L 385.5,528.5 L 382.5,528.5 M 393.5,518.5 L 394.5,517.5 L 394.5,528.5 M 393.5,528.5 L 396.5,528.5 M 404.5,527.5 L 405.5,527.5 L 405.5,528.5 L 404.5,528.5 Z M 413.5,517.5 L 416.5,517.5 L 417.5,518.5 L 417.5,521.5 L 416.5,522.5 L 414.5,522.5 M 416.5,522.5 L 417.5,523.5 L 417.5,527.5 L 416.5,528.5 L 413.5,528.5 M 424.5,517.5 L 426.5,517.5 L 427.5,518.5 L 427.5,521.5 L 426.5,522.5 L 424.5,522.5 L 423.5,521.5 L 423.5,518.5 Z M 423.5,522.5 L 422.5,523.5 L 422.5,527.5 L 423.5,528.5 L 427.5,528.5 L 428.5,527.5 L 428.5,523.5 L 427.5,522.5 M 463.5,523.5 L 468.5,523.5 M 474.5,519.5 L 474.5,518.5 L 475.5,517.5 L 479.5,517.5 L 480.5,518.5 L 480.5,521.5 L 474.5,527.5 L 474.5,528.5 L 480.5,528.5 M 484.5,519.5 L 484.5,518.5 L 485.5,517.5 L 489.5,517.5 L 490.5,518.5 L 490.5,521.5 L 484.5,527.5 L 484.5,528.5 L 490.5,528.5 M 496.5,527.5 L 497.5,527.5 L 497.5,528.5 L 496.5,528.5 Z M 506.5,517.5 L 508.5,517.5 L 509.5,518.5 L 509.5,521.5 L 508.5,522.5 L 506.5,522.5 L 505.5,521.5 L 505.5,518.5 Z M 505.5,522.5 L 504.5,523.5 L 504.5,527.5 L 505.5,528.5 L 509.5,528.5 L 510.5,527.5 L 510.5,523.5 L 509.5,522.5 M 520.5,521.5 L 519.5,522.5 L 515.5,522.5 L 514.5,521.5 L 514.5,518.5 L 515.5,517.5 L 519.5,517.5 L 520.5,518.5 L 520.5,522.5 L 516.5,528.5 M 46.5,537.5 L 46.5,536.5 L 47.5,535.5 L 51.5,535.5 L 52.5,536.5 L 52.5,539.5 L 46.5,545.5 L 46.5,546.5 L 52.5,546.5 M 58.5,539.5 L 59.5,539.5 L 59.5,540.5 L 58.5,540.5 Z M 58.5,545.5 L 59.5,545.5 L 59.5,546.5 L 58.5,546.5 Z M 87.5,535.5 L 87.5,542.5 L 93.5,542.5 M 91.5,535.5 L 91.5,546.5 M 99.5,535.5 L 102.5,535.5 L 103.5,536.5 L 103.5,539.5 L 102.5,540.5 L 100.5,540.5 M 102.5,540.5 L 103.5,541.5 L 103.5,545.5 L 102.5,546.5 L 99.5,546.5 M 110.5,535.5 L 112.5,535.5 L 113.5,536.5 L 113.5,539.5 L 112.5,540.5 L 110.5,540.5 L 109.5,539.5 L 109.5,536.5 Z M 109.5,540.5 L 108.5,541.5 L 108.5,545.5 L 109.5,546.5 L 113.5,546.5 L 114.5,545.5 L 114.5,541.5 L 113.5,540.5 M 120.5,545.5 L 121.5,545.5 L 121.5,546.5 L 120.5,546.5 Z M 134.5,539.5 L 133.5,540.5 L 129.5,540.5 L 128.5,539.5 L 128.5,536.5 L 129.5,535.5 L 133.5,535.5 L 134.5,536.5 L 134.5,540.5 L 130.5,546.5 M 141.5,535.5 L 143.5,535.5 L 144.5,536.5 L 144.5,539.5 L 143.5,540.5 L 141.5,540.5 L 140.5,539.5 L 140.5,536.5 Z M 140.5,540.5 L 139.5,541.5 L 139.5,545.5 L 140.5,546.5 L 144.5,546.5 L 145.5,545.5 L 145.5,541.5 L 144.5,540.5 M 190.5,541.5 L 195.5,541.5 M 201.5,535.5 L 205.5,535.5 L 206.5,536.5 L 206.5,545.5 L 205.5,546.5 L 201.5,546.5 L 200.5,545.5 L 200.5,536.5 Z M 200.5,545.5 L 206.5,536.5 M 212.5,545.5 L 213.5,545.5 L 213.5,546.5 L 212.5,546.5 Z M 223.5,535.5 L 225.5,535.5 L 226.5,536.5 L 226.5,539.5 L 225.5,540.5 L 223.5,540.5 L 222.5,539.5 L 222.5,536.5 Z M 222.5,540.5 L 221.5,541.5 L 221.5,545.5 L 222.5,546.5 L 226.5,546.5 L 227.5,545.5 L 227.5,541.5 L 226.5,540.5 M 231.5,535.5 L 231.5,542.5 L 237.5,542.5 M 235.5,535.5 L 235.5,546.5 M 330.5,537.5 L 330.5,536.5 L 331.5,535.5 L 335.5,535.5 L 336.5,536.5 L 336.5,539.5 L 330.5,545.5 L 330.5,546.5 L 336.5,546.5 M 341.5,539.5 L 342.5,539.5 L 342.5,540.5 L 341.5,540.5 Z M 341.5,545.5 L 342.5,545.5 L 342.5,546.5 L 341.5,546.5 Z M 371.5,535.5 L 371.5,542.5 L 377.5,542.5 M 375.5,535.5 L 375.5,546.5 M 382.5,535.5 L 385.5,535.5 L 386.5,536.5 L 386.5,539.5 L 385.5,540.5 L 383.5,540.5 M 385.5,540.5 L 386.5,541.5 L 386.5,545.5 L 385.5,546.5 L 382.5,546.5 M 394.5,535.5 L 396.5,535.5 L 397.5,536.5 L 397.5,539.5 L 396.5,540.5 L 394.5,540.5 L 393.5,539.5 L 393.5,536.5 Z M 393.5,540.5 L 392.5,541.5 L 392.5,545.5 L 393.5,546.5 L 397.5,546.5 L 398.5,545.5 L 398.5,541.5 L 397.5,540.5 M 404.5,545.5 L 405.5,545.5 L 405.5,546.5 L 404.5,546.5 Z M 418.5,539.5 L 417.5,540.5 L 413.5,540.5 L 412.5,539.5 L 412.5,536.5 L 413.5,535.5 L 417.5,535.5 L 418.5,536.5 L 418.5,540.5 L 414.5,546.5 M 424.5,535.5 L 426.5,535.5 L 427.5,536.5 L 427.5,539.5 L 426.5,540.5 L 424.5,540.5 L 423.5,539.5 L 423.5,536.5 Z M 423.5,540.5 L 422.5,541.5 L 422.5,545.5 L 423.5,546.5 L 427.5,546.5 L 428.5,545.5 L 428.5,541.5 L 427.5,540.5 M 463.5,541.5 L 468.5,541.5 M 475.5,535.5 L 478.5,535.5 L 479.5,536.5 L 479.5,539.5 L 478.5,540.5 L 476.5,540.5 M 478.5,540.5 L 479.5,541.5 L 479.5,545.5 L 478.5,546.5 L 475.5,546.5 M 485.5,536.5 L 486.5,535.5 L 486.5,546.5 M 485.5,546.5 L 488.5,546.5 M 496.5,545.5 L 497.5,545.5 L 497.5,546.5 L 496.5,546.5 Z M 509.5,535.5 L 505.5,540.5 L 504.5,542.5 L 504.5,545.5 L 505.5,546.5 L 509.5,546.5 L 510.5,545.5 L 510.5,542.5 L 509.5,541.5 L 505.5,541.5 M 514.5,535.5 L 520.5,535.5 L 520.5,536.5 L 516.5,546.5 M 47.5,553.5 L 50.5,553.5 L 51.5,554.5 L 51.5,557.5 L 50.5,558.5 L 48.5,558.5 M 50.5,558.5 L 51.5,559.5 L 51.5,563.5 L 50.5,564.5 L 47.5,564.5 M 58.5,557.5 L 59.5,557.5 L 59.5,558.5 L 58.5,558.5 Z M 58.5,563.5 L 59.5,563.5 L 59.5,564.5 L 58.5,564.5 Z M 87.5,553.5 L 87.5,560.5 L 93.5,560.5 M 91.5,553.5 L 91.5,564.5 M 99.5,553.5 L 102.5,553.5 L 103.5,554.5 L 103.5,557.5 L 102.5,558.5 L 100.5,558.5 M 102.5,558.5 L 103.5,559.5 L 103.5,563.5 L 102.5,564.5 L 99.5,564.5 M 109.5,553.5 L 113.5,553.5 L 114.5,554.5 L 114.5,563.5 L 113.5,564.5 L 109.5,564.5 L 108.5,563.5 L 108.5,554.5 Z M 108.5,563.5 L 114.5,554.5 M 120.5,563.5 L 121.5,563.5 L 121.5,564.5 L 120.5,564.5 Z M 128.5,553.5 L 128.5,560.5 L 134.5,560.5 M 132.5,553.5 L 132.5,564.5 M 145.5,557.5 L 144.5,558.5 L 140.5,558.5 L 139.5,557.5 L 139.5,554.5 L 140.5,553.5 L 144.5,553.5 L 145.5,554.5 L 145.5,558.5 L 141.5,564.5 M 180.5,559.5 L 185.5,559.5 M 192.5,553.5 L 194.5,553.5 L 195.5,554.5 L 195.5,557.5 L 194.5,558.5 L 192.5,558.5 L 191.5,557.5 L 191.5,554.5 Z M 191.5,558.5 L 190.5,559.5 L 190.5,563.5 L 191.5,564.5 L 195.5,564.5 L 196.5,563.5 L 196.5,559.5 L 195.5,558.5 M 201.5,553.5 L 205.5,553.5 L 206.5,554.5 L 206.5,563.5 L 205.5,564.5 L 201.5,564.5 L 200.5,563.5 L 200.5,554.5 Z M 200.5,563.5 L 206.5,554.5 M 212.5,563.5 L 213.5,563.5 L 213.5,564.5 L 212.5,564.5 Z M 222.5,554.5 L 223.5,553.5 L 223.5,564.5 M 222.5,564.5 L 225.5,564.5 M 232.5,553.5 L 236.5,553.5 L 237.5,554.5 L 237.5,563.5 L 236.5,564.5 L 232.5,564.5 L 231.5,563.5 L 231.5,554.5 Z M 231.5,563.5 L 237.5,554.5 M 331.5,553.5 L 334.5,553.5 L 335.5,554.5 L 335.5,557.5 L 334.5,558.5 L 332.5,558.5 M 334.5,558.5 L 335.5,559.5 L 335.5,563.5 L 334.5,564.5 L 331.5,564.5 M 341.5,557.5 L 342.5,557.5 L 342.5,558.5 L 341.5,558.5 Z M 341.5,563.5 L 342.5,563.5 L 342.5,564.5 L 341.5,564.5 Z M 371.5,553.5 L 371.5,560.5 L 377.5,560.5 M 375.5,553.5 L 375.5,564.5 M 382.5,553.5 L 385.5,553.5 L 386.5,554.5 L 386.5,557.5 L 385.5,558.5 L 383.5,558.5 M 385.5,558.5 L 386.5,559.5 L 386.5,563.5 L 385.5,564.5 L 382.5,564.5 M 393.5,553.5 L 397.5,553.5 L 398.5,554.5 L 398.5,563.5 L 397.5,564.5 L 393.5,564.5 L 392.5,563.5 L 392.5,554.5 Z M 392.5,563.5 L 398.5,554.5 M 404.5,563.5 L 405.5,563.5 L 405.5,564.5 L 404.5,564.5 Z M 412.5,553.5 L 412.5,560.5 L 418.5,560.5 M 416.5,553.5 L 416.5,564.5 M 428.5,557.5 L 427.5,558.5 L 423.5,558.5 L 422.5,557.5 L 422.5,554.5 L 423.5,553.5 L 427.5,553.5 L 428.5,554.5 L 428.5,558.5 L 424.5,564.5 M 463.5,559.5 L 468.5,559.5 M 474.5,555.5 L 474.5,554.5 L 475.5,553.5 L 479.5,553.5 L 480.5,554.5 L 480.5,557.5 L 474.5,563.5 L 474.5,564.5 L 480.5,564.5 M 484.5,555.5 L 484.5,554.5 L 485.5,553.5 L 489.5,553.5 L 490.5,554.5 L 490.5,557.5 L 484.5,563.5 L 484.5,564.5 L 490.5,564.5 M 496.5,563.5 L 497.5,563.5 L 497.5,564.5 L 496.5,564.5 Z M 505.5,553.5 L 509.5,553.5 L 510.5,554.5 L 510.5,563.5 L 509.5,564.5 L 505.5,564.5 L 504.5,563.5 L 504.5,554.5 Z M 504.5,563.5 L 510.5,554.5 M 514.5,555.5 L 514.5,554.5 L 515.5,553.5 L 519.5,553.5 L 520.5,554.5 L 520.5,557.5 L 514.5,563.5 L 514.5,564.5 L 520.5,564.5 M 46.5,571.5 L 46.5,578.5 L 52.5,578.5 M 50.5,571.5 L 50.5,582.5 M 58.5,575.5 L 59.5,575.5 L 59.5,576.5 L 58.5,576.5 Z M 58.5,581.5 L 59.5,581.5 L 59.5,582.5 L 58.5,582.5 Z M 87.5,571.5 L 87.5,578.5 L 93.5,578.5 M 91.5,571.5 L 91.5,582.5 M 99.5,571.5 L 102.5,571.5 L 103.5,572.5 L 103.5,575.5 L 102.5,576.5 L 100.5,576.5 M 102.5,576.5 L 103.5,577.5 L 103.5,581.5 L 102.5,582.5 L 99.5,582.5 M 109.5,572.5 L 110.5,571.5 L 110.5,582.5 M 109.5,582.5 L 112.5,582.5 M 120.5,581.5 L 121.5,581.5 L 121.5,582.5 L 120.5,582.5 Z M 128.5,571.5 L 134.5,571.5 L 134.5,572.5 L 130.5,582.5 M 140.5,572.5 L 141.5,571.5 L 141.5,582.5 M 140.5,582.5 L 143.5,582.5 M 180.5,577.5 L 185.5,577.5 M 190.5,571.5 L 196.5,571.5 L 196.5,572.5 L 192.5,582.5 M 202.5,571.5 L 204.5,571.5 L 205.5,572.5 L 205.5,575.5 L 204.5,576.5 L 202.5,576.5 L 201.5,575.5 L 201.5,572.5 Z M 201.5,576.5 L 200.5,577.5 L 200.5,581.5 L 201.5,582.5 L 205.5,582.5 L 206.5,581.5 L 206.5,577.5 L 205.5,576.5 M 212.5,581.5 L 213.5,581.5 L 213.5,582.5 L 212.5,582.5 Z M 221.5,573.5 L 221.5,572.5 L 222.5,571.5 L 226.5,571.5 L 227.5,572.5 L 227.5,575.5 L 221.5,581.5 L 221.5,582.5 L 227.5,582.5 M 237.5,575.5 L 236.5,576.5 L 232.5,576.5 L 231.5,575.5 L 231.5,572.5 L 232.5,571.5 L 236.5,571.5 L 237.5,572.5 L 237.5,576.5 L 233.5,582.5 M 330.5,571.5 L 330.5,578.5 L 336.5,578.5 M 334.5,571.5 L 334.5,582.5 M 341.5,575.5 L 342.5,575.5 L 342.5,576.5 L 341.5,576.5 Z M 341.5,581.5 L 342.5,581.5 L 342.5,582.5 L 341.5,582.5 Z M 371.5,571.5 L 371.5,578.5 L 377.5,578.5 M 375.5,571.5 L 375.5,582.5 M 382.5,571.5 L 385.5,571.5 L 386.5,572.5 L 386.5,575.5 L 385.5,576.5 L 383.5,576.5 M 385.5,576.5 L 386.5,577.5 L 386.5,581.5 L 385.5,582.5 L 382.5,582.5 M 393.5,572.5 L 394.5,571.5 L 394.5,582.5 M 393.5,582.5 L 396.5,582.5 M 404.5,581.5 L 405.5,581.5 L 405.5,582.5 L 404.5,582.5 Z M 412.5,571.5 L 418.5,571.5 L 418.5,572.5 L 414.5,582.5 M 423.5,572.5 L 424.5,571.5 L 424.5,582.5 M 423.5,582.5 L 426.5,582.5 M 463.5,577.5 L 468.5,577.5 M 474.5,573.5 L 474.5,572.5 L 475.5,571.5 L 479.5,571.5 L 480.5,572.5 L 480.5,575.5 L 474.5,581.5 L 474.5,582.5 L 480.5,582.5 M 484.5,571.5 L 484.5,578.5 L 490.5,578.5 M 488.5,571.5 L 488.5,582.5 M 496.5,581.5 L 497.5,581.5 L 497.5,582.5 L 496.5,582.5 Z M 504.5,573.5 L 504.5,572.5 L 505.5,571.5 L 509.5,571.5 L 510.5,572.5 L 510.5,575.5 L 504.5,581.5 L 504.5,582.5 L 510.5,582.5 M 519.5,571.5 L 515.5,576.5 L 514.5,578.5 L 514.5,581.5 L 515.5,582.5 L 519.5,582.5 L 520.5,581.5 L 520.5,578.5 L 519.5,577.5 L 515.5,577.5 M 52.5,589.5 L 46.5,589.5 L 46.5,594.5 L 51.5,594.5 L 52.5,595.5 L 52.5,599.5 L 51.5,600.5 L 46.5,600.5 M 58.5,593.5 L 62.5,596.5 L 58.5,599.5 M 87.5,589.5 L 87.5,596.5 L 93.5,596.5 M 91.5,589.5 L 91.5,600.5 M 99.5,589.5 L 102.5,589.5 L 103.5,590.5 L 103.5,593.5 L 102.5,594.5 L 100.5,594.5 M 102.5,594.5 L 103.5,595.5 L 103.5,599.5 L 102.5,600.5 L 99.5,600.5 M 110.5,589.5 L 112.5,589.5 L 113.5,590.5 L 113.5,593.5 L 112.5,594.5 L 110.5,594.5 L 109.5,593.5 L 109.5,590.5 Z M 109.5,594.5 L 108.5,595.5 L 108.5,599.5 L 109.5,600.5 L 113.5,600.5 L 114.5,599.5 L 114.5,595.5 L 113.5,594.5 M 120.5,599.5 L 121.5,599.5 L 121.5,600.5 L 120.5,600.5 Z M 129.5,590.5 L 130.5,589.5 L 130.5,600.5 M 129.5,600.5 L 132.5,600.5 M 140.5,589.5 L 144.5,589.5 L 145.5,590.5 L 145.5,599.5 L 144.5,600.5 L 140.5,600.5 L 139.5,599.5 L 139.5,590.5 Z M 139.5,599.5 L 145.5,590.5 M 190.5,595.5 L 195.5,595.5 M 201.5,590.5 L 202.5,589.5 L 202.5,600.5 M 201.5,600.5 L 204.5,600.5 M 212.5,599.5 L 213.5,599.5 L 213.5,600.5 L 212.5,600.5 Z M 222.5,589.5 L 226.5,589.5 L 227.5,590.5 L 227.5,599.5 L 226.5,600.5 L 222.5,600.5 L 221.5,599.5 L 221.5,590.5 Z M 221.5,599.5 L 227.5,590.5 M 237.5,589.5 L 231.5,589.5 L 231.5,594.5 L 236.5,594.5 L 237.5,595.5 L 237.5,599.5 L 236.5,600.5 L 231.5,600.5 M 336.5,589.5 L 330.5,589.5 L 330.5,594.5 L 335.5,594.5 L 336.5,595.5 L 336.5,599.5 L 335.5,600.5 L 330.5,600.5 M 341.5,593.5 L 342.5,593.5 L 342.5,594.5 L 341.5,594.5 Z M 341.5,599.5 L 342.5,599.5 L 342.5,600.5 L 341.5,600.5 Z M 371.5,589.5 L 371.5,596.5 L 377.5,596.5 M 375.5,589.5 L 375.5,600.5 M 382.5,589.5 L 385.5,589.5 L 386.5,590.5 L 386.5,593.5 L 385.5,594.5 L 383.5,594.5 M 385.5,594.5 L 386.5,595.5 L 386.5,599.5 L 385.5,600.5 L 382.5,600.5 M 394.5,589.5 L 396.5,589.5 L 397.5,590.5 L 397.5,593.5 L 396.5,594.5 L 394.5,594.5 L 393.5,593.5 L 393.5,590.5 Z M 393.5,594.5 L 392.5,595.5 L 392.5,599.5 L 393.5,600.5 L 397.5,600.5 L 398.5,599.5 L 398.5,595.5 L 397.5,594.5 M 404.5,599.5 L 405.5,599.5 L 405.5,600.5 L 404.5,600.5 Z M 413.5,590.5 L 414.5,589.5 L 414.5,600.5 M 413.5,600.5 L 416.5,600.5 M 423.5,589.5 L 427.5,589.5 L 428.5,590.5 L 428.5,599.5 L 427.5,600.5 L 423.5,600.5 L 422.5,599.5 L 422.5,590.5 Z M 422.5,599.5 L 428.5,590.5 M 463.5,595.5 L 468.5,595.5 M 475.5,589.5 L 478.5,589.5 L 479.5,590.5 L 479.5,593.5 L 478.5,594.5 L 476.5,594.5 M 478.5,594.5 L 479.5,595.5 L 479.5,599.5 L 478.5,600.5 L 475.5,600.5 M 485.5,589.5 L 489.5,589.5 L 490.5,590.5 L 490.5,599.5 L 489.5,600.5 L 485.5,600.5 L 484.5,599.5 L 484.5,590.5 Z M 484.5,599.5 L 490.5,590.5 M 496.5,599.5 L 497.5,599.5 L 497.5,600.5 L 496.5,600.5 Z M 505.5,589.5 L 508.5,589.5 L 509.5,590.5 L 509.5,593.5 L 508.5,594.5 L 506.5,594.5 M 508.5,594.5 L 509.5,595.5 L 509.5,599.5 L 508.5,600.5 L 505.5,600.5 M 519.5,589.5 L 515.5,594.5 L 514.5,596.5 L 514.5,599.5 L 515.5,600.5 L 519.5,600.5 L 520.5,599.5 L 520.5,596.5 L 519.5,595.5 L 515.5,595.5 M 51.5,607.5 L 47.5,612.5 L 46.5,614.5 L 46.5,617.5 L 47.5,618.5 L 51.5,618.5 L 52.5,617.5 L 52.5,614.5 L 51.5,613.5 L 47.5,613.5 M 58.5,611.5 L 59.5,611.5 L 59.5,612.5 L 58.5,612.5 Z M 58.5,617.5 L 59.5,617.5 L 59.5,618.5 L 58.5,618.5 Z M 87.5,607.5 L 87.5,614.5 L 93.5,614.5 M 91.5,607.5 L 91.5,618.5 M 98.5,607.5 L 98.5,614.5 L 104.5,614.5 M 102.5,607.5 L 102.5,618.5 M 109.5,607.5 L 113.5,607.5 L 114.5,608.5 L 114.5,617.5 L 113.5,618.5 L 109.5,618.5 L 108.5,617.5 L 108.5,608.5 Z M 108.5,617.5 L 114.5,608.5 M 120.5,617.5 L 121.5,617.5 L 121.5,618.5 L 120.5,618.5 Z M 129.5,607.5 L 132.5,607.5 L 133.5,608.5 L 133.5,611.5 L 132.5,612.5 L 130.5,612.5 M 132.5,612.5 L 133.5,613.5 L 133.5,617.5 L 132.5,618.5 L 129.5,618.5 M 139.5,607.5 L 139.5,614.5 L 145.5,614.5 M 143.5,607.5 L 143.5,618.5 M 190.5,613.5 L 195.5,613.5 M 201.5,607.5 L 205.5,607.5 L 206.5,608.5 L 206.5,617.5 L 205.5,618.5 L 201.5,618.5 L 200.5,617.5 L 200.5,608.5 Z M 200.5,617.5 L 206.5,608.5 M 212.5,617.5 L 213.5,617.5 L 213.5,618.5 L 212.5,618.5 Z M 226.5,607.5 L 222.5,612.5 L 221.5,614.5 L 221.5,617.5 L 222.5,618.5 L 226.5,618.5 L 227.5,617.5 L 227.5,614.5 L 226.5,613.5 L 222.5,613.5 M 237.5,607.5 L 231.5,607.5 L 231.5,612.5 L 236.5,612.5 L 237.5,613.5 L 237.5,617.5 L 236.5,618.5 L 231.5,618.5 M 335.5,607.5 L 331.5,612.5 L 330.5,614.5 L 330.5,617.5 L 331.5,618.5 L 335.5,618.5 L 336.5,617.5 L 336.5,614.5 L 335.5,613.5 L 331.5,613.5 M 341.5,611.5 L 345.5,614.5 L 341.5,617.5 M 371.5,607.5 L 371.5,614.5 L 377.5,614.5 M 375.5,607.5 L 375.5,618.5 M 381.5,607.5 L 381.5,614.5 L 387.5,614.5 M 385.5,607.5 L 385.5,618.5 M 393.5,607.5 L 397.5,607.5 L 398.5,608.5 L 398.5,617.5 L 397.5,618.5 L 393.5,618.5 L 392.5,617.5 L 392.5,608.5 Z M 392.5,617.5 L 398.5,608.5 M 404.5,617.5 L 405.5,617.5 L 405.5,618.5 L 404.5,618.5 Z M 413.5,607.5 L 416.5,607.5 L 417.5,608.5 L 417.5,611.5 L 416.5,612.5 L 414.5,612.5 M 416.5,612.5 L 417.5,613.5 L 417.5,617.5 L 416.5,618.5 L 413.5,618.5 M 422.5,607.5 L 422.5,614.5 L 428.5,614.5 M 426.5,607.5 L 426.5,618.5 M 463.5,613.5 L 468.5,613.5 M 475.5,607.5 L 478.5,607.5 L 479.5,608.5 L 479.5,611.5 L 478.5,612.5 L 476.5,612.5 M 478.5,612.5 L 479.5,613.5 L 479.5,617.5 L 478.5,618.5 L 475.5,618.5 M 485.5,607.5 L 489.5,607.5 L 490.5,608.5 L 490.5,617.5 L 489.5,618.5 L 485.5,618.5 L 484.5,617.5 L 484.5,608.5 Z M 484.5,617.5 L 490.5,608.5 M 496.5,617.5 L 497.5,617.5 L 497.5,618.5 L 496.5,618.5 Z M 505.5,607.5 L 509.5,607.5 L 510.5,608.5 L 510.5,617.5 L 509.5,618.5 L 505.5,618.5 L 504.5,617.5 L 504.5,608.5 Z M 504.5,617.5 L 510.5,608.5 M 520.5,607.5 L 514.5,607.5 L 514.5,612.5 L 519.5,612.5 L 520.5,613.5 L 520.5,617.5 L 519.5,618.5 L 514.5,618.5 M 223.5,452.5 L 224.5,451.5 L 224.5,462.5 M 223.5,462.5 L 226.5,462.5 M 438.5,68.5 L 438.5,67.5 L 439.5,66.5 L 443.5,66.5 L 444.5,67.5 L 444.5,70.5 L 438.5,76.5 L 438.5,77.5 L 444.5,77.5 M 197.5,392.5 L 200.5,392.5 L 201.5,393.5 L 201.5,396.5 L 200.5,397.5 L 198.5,397.5 M 200.5,397.5 L 201.5,398.5 L 201.5,402.5 L 200.5,403.5 L 197.5,403.5 M 231.5,385.5 L 231.5,392.5 L 237.5,392.5 M 235.5,385.5 L 235.5,396.5 M 480.5,67.5 L 476.5,72.5 L 475.5,74.5 L 475.5,77.5 L 476.5,78.5 L 480.5,78.5 L 481.5,77.5 L 481.5,74.5 L 480.5,73.5 L 476.5,73.5 M 223.5,158.5 L 224.5,157.5 L 224.5,168.5 M 223.5,168.5 L 226.5,168.5 M 438.5,194.5 L 438.5,193.5 L 439.5,192.5 L 443.5,192.5 L 444.5,193.5 L 444.5,196.5 L 438.5,202.5 L 438.5,203.5 L 444.5,203.5 M 197.5,153.5 L 200.5,153.5 L 201.5,154.5 L 201.5,157.5 L 200.5,158.5 L 198.5,158.5 M 200.5,158.5 L 201.5,159.5 L 201.5,163.5 L 200.5,164.5 L 197.5,164.5 M 231.5,163.5 L 231.5,170.5 L 237.5,170.5 M 235.5,163.5 L 235.5,174.5 M 418.5,188.5 L 412.5,188.5 L 412.5,193.5 L 417.5,193.5 L 418.5,194.5 L 418.5,198.5 L 417.5,199.5 L 412.5,199.5 M 418.5,16.5 L 412.5,16.5 L 412.5,21.5 L 417.5,21.5 L 418.5,22.5 L 418.5,26.5 L 417.5,27.5 L 412.5,27.5 M 480.5,136.5 L 476.5,141.5 L 475.5,143.5 L 475.5,146.5 L 476.5,147.5 L 480.5,147.5 L 481.5,146.5 L 481.5,143.5 L 480.5,142.5 L 476.5,142.5"/>
</svg></body></html>
